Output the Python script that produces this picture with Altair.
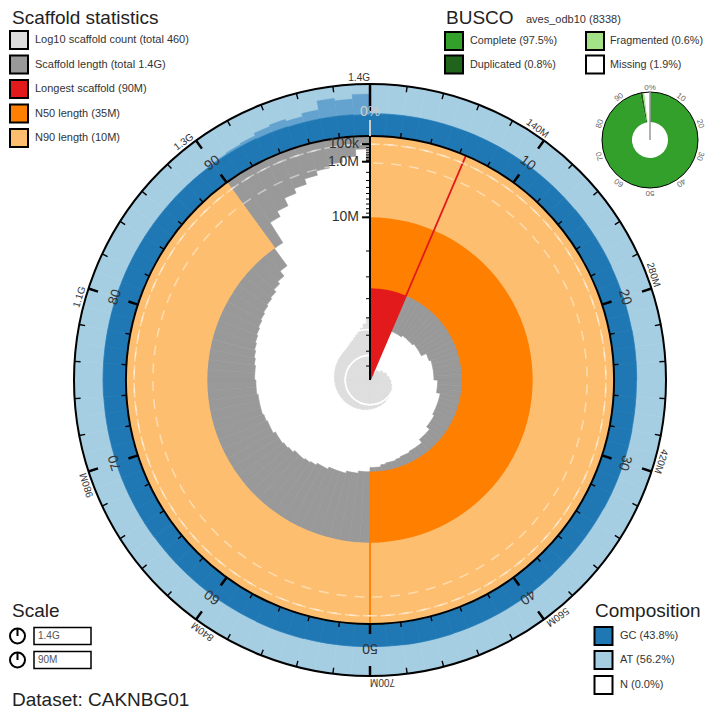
import math
import altair as alt
import pandas as pd

# ------------------------------------------------------------------ data
TOTAL_MB = 1400.0
LONGEST_MB = 90.0
N50_MB = 35.0
N90_MB = 10.0
N_SCAFFOLDS = 460

# scaffold length (Mb) at each 1% bin of the assembly (size ordered)
scaffold_len_mb = [
    90, 90, 90, 90, 90, 90, 55, 55, 55, 55,
    54, 54, 54, 54, 53, 53, 53, 53, 50, 50,
    49, 49, 49, 49, 49, 47, 47, 47, 45, 45,
    45, 45, 45, 44, 44, 44, 42, 42, 42, 40,
    40, 40, 39.5, 39.5, 39, 38.5, 38.5, 38, 37, 37,
    35, 35, 34, 34, 33, 33, 33, 32, 32, 31,
    30.5, 30, 30, 29, 28.5, 28, 28, 27, 27, 26.5,
    26, 26, 26, 25.5, 25.5, 25, 25, 24.5, 24, 23.5,
    23, 22.5, 22, 21.5, 21, 20.5, 20, 19, 18, 16,
    10, 5, 4, 2.8, 2.2, 1.6, 1.2, 0.9, 0.6, 0.25,
]
# cumulative scaffold count at each 1% bin
cum_count = [
    1, 1, 1, 1, 1, 1, 2, 2, 2, 2,
    3, 3, 3, 3, 4, 4, 4, 4, 5, 5,
    5, 5, 6, 6, 6, 7, 7, 7, 8, 8,
    8, 9, 9, 9, 10, 10, 10, 11, 11, 11,
    12, 12, 12, 13, 13, 13, 14, 14, 14, 15,
    15, 16, 16, 17, 17, 17, 18, 18, 19, 19,
    20, 20, 21, 21, 22, 22, 23, 23, 24, 24,
    25, 25, 26, 26, 27, 27, 28, 28, 29, 29,
    30, 31, 31, 32, 33, 33, 34, 35, 36, 37,
    40, 44, 49, 56, 66, 80, 100, 130, 190, 330,
]
# GC proportion (mean and sd) at each 1% bin
gc_mean = [
    .43, .43, .43, .43, .43, .43, .43, .43, .43, .43,
    .43, .43, .43, .43, .435, .435, .435, .435, .43, .43,
    .43, .43, .435, .435, .435, .43, .43, .43, .435, .435,
    .435, .435, .435, .43, .43, .43, .43, .43, .435, .435,
    .435, .435, .435, .435, .435, .44, .44, .44, .435, .435,
    .435, .435, .435, .435, .44, .44, .44, .435, .435, .435,
    .435, .435, .435, .435, .435, .44, .44, .44, .44, .44,
    .435, .435, .435, .435, .44, .44, .44, .44, .44, .44,
    .44, .44, .44, .44, .44, .44, .44, .44, .44, .44,
    .44, .44, .44, .43, .43, .42, .42, .42, .42, .41,
]
gc_sd = [0.005] * 90 + [
    .02, .04, .06, .12, .15, .12, .18, .35, .30, .40]

pct_labels = ["0%", "10", "20", "30", "40", "50", "60", "70", "80", "90"]
len_labels = ["1.4G", "140M", "280M", "420M", "560M", "700M", "840M",
              "980M", "1.1G", "1.3G"]
radial_tick_mb = [0.1, 0.2, 0.3, 0.4, 0.5, 0.6, 0.7, 0.8, 0.9,
                  1, 2, 3, 4, 5, 6, 7, 8, 9,
                  10, 20, 30, 40, 50, 60, 70, 80]
radial_major_mb = [0.1, 1, 10]
radial_major_lab = ["100k", "1.0M", "10M"]
grid_mb = [0.1, 1]

busco_names = ["Complete", "Duplicated", "Fragmented", "Missing"]
busco_pct = [97.5, 0.8, 0.6, 1.9]
busco_cols = ["#33a02c", "#20641c", "#a3e287", "#ffffff"]

scaf_leg_labels = ["Log10 scaffold count (total 460)",
                   "Scaffold length (total 1.4G)",
                   "Longest scaffold (90M)",
                   "N50 length (35M)",
                   "N90 length (10M)"]
scaf_leg_cols = ["#dddddd", "#999999", "#e31a1c", "#ff7f00", "#fdbf6f"]

comp_labels = ["GC (43.8%)", "AT (56.2%)", "N (0.0%)"]
comp_cols = ["#1f78b4", "#a6cee3", "#ffffff"]

scale_labels = ["1.4G", "90M"]
dataset_name = "CAKNBG01"

# ------------------------------------------------------------------ layout
W, H = 698, 705
CX, CY = 362, 372
R_IN, R_OUT = 244, 296
TAU = 2 * math.pi
FONT = "Liberation Sans"
TXT = "#333333"

theta_sc = alt.Scale(domain=[0, 100], range=[0, TAU])
len_sc = alt.Scale(type="sqrt", domain=[0, LONGEST_MB], range=[R_IN, 0], nice=False)
gc_sc = alt.Scale(type="linear", domain=[0, 1], range=[R_IN, R_OUT], nice=False)
cnt_sc = alt.Scale(type="log", domain=[1, N_SCAFFOLDS], range=[0, 66], nice=False)
ang_sc = alt.Scale(domain=[0, 100], range=[0, 360])


def TH(f):
    return alt.Theta(f, type="quantitative", scale=theta_sc, stack=None)


def ctr(x=CX, y=CY):
    return dict(x=alt.value(x), y=alt.value(y))


one_row = pd.DataFrame({"a": [0]})

bins = pd.DataFrame({
    "p0": list(range(100)),
    "p1": [i + 1 for i in range(100)],
    "L": scaffold_len_mb,
    "cnt": cum_count,
    "gc": gc_mean,
    "sd": gc_sd,
})
bins["gc_hi"] = (bins["gc"] + bins["sd"]).clip(upper=1.0)
bins["zero"] = 0.0
bins["one"] = 1.0

layers = []

# composition ring
layers.append(alt.Chart(bins).mark_arc(color="#a6cee3", stroke="#a6cee3", strokeWidth=0.6).encode(
    theta=TH("p0"), theta2="p1", radius=alt.Radius("zero:Q", scale=gc_sc), radius2="one", **ctr()))
layers.append(alt.Chart(bins).mark_arc(color="#64a3cf", stroke="#64a3cf", strokeWidth=0.3).encode(
    theta=TH("p0"), theta2="p1", radius=alt.Radius("gc:Q", scale=gc_sc), radius2="gc_hi", **ctr()))
layers.append(alt.Chart(bins).mark_arc(color="#1f78b4", stroke="#1f78b4", strokeWidth=0.6).encode(
    theta=TH("p0"), theta2="p1", radius=alt.Radius("zero:Q", scale=gc_sc), radius2="gc", **ctr()))

# scaffold lengths
layers.append(alt.Chart(bins).mark_arc(color="#999999", stroke="#999999", strokeWidth=0.6).encode(
    theta=TH("p0"), theta2="p1", radius=alt.Radius("L:Q", scale=len_sc), radius2="zero", **ctr()))

# cumulative count spiral
layers.append(alt.Chart(bins).mark_arc(color="#dddddd", stroke="#dddddd", strokeWidth=0.6).encode(
    theta=TH("p0"), theta2="p1", radius=alt.Radius("cnt:Q", scale=cnt_sc), radius2="one", **ctr()))
layers.append(alt.Chart(pd.DataFrame({"c": [10, 100]})).mark_arc(
    fillOpacity=0, stroke="white", strokeWidth=1.5).encode(
    theta=alt.value(0), theta2=alt.value(TAU), radius=alt.Radius("c:Q", scale=cnt_sc), **ctr()))

# longest, N50, N90
stats = pd.DataFrame({
    "p0": [0.0, 0.0, 0.0],
    "p1": [LONGEST_MB / TOTAL_MB * 100, 50.0, 90.0],
    "L": [LONGEST_MB, N50_MB, N90_MB],
    "z": [0.0, 0.0, 0.0],
    "col": ["#e31a1c", "#ff7f00", "#fdbf6f"],
})
for i in range(3):
    layers.append(alt.Chart(stats.iloc[[i]]).mark_arc().encode(
        theta=TH("p0"), theta2="p1", radius=alt.Radius("L:Q", scale=len_sc), radius2="z",
        color=alt.Color("col:N", scale=None), **ctr()))
layers.append(alt.Chart(stats).mark_arc(fillOpacity=0, strokeWidth=1.8).encode(
    theta=TH("p1"), theta2="p1", radius=alt.Radius("L:Q", scale=len_sc), radius2="z",
    stroke=alt.Stroke("col:N", scale=None), **ctr()))

# dashed length gridlines
layers.append(alt.Chart(pd.DataFrame({"L": grid_mb})).mark_arc(
    fillOpacity=0, stroke="white", strokeOpacity=0.45, strokeWidth=1.5, strokeDash=[10, 8]).encode(
    theta=alt.value(0), theta2=alt.value(TAU), radius=alt.Radius("L:Q", scale=len_sc), **ctr()))

# ring outlines
for r in (R_IN, R_OUT):
    layers.append(alt.Chart(one_row).mark_arc(fillOpacity=0, stroke="black", strokeWidth=2).encode(
        theta=alt.value(0), theta2=alt.value(TAU), radius=alt.value(r), **ctr()))

# ticks
pt = pd.DataFrame({"p": list(range(2, 100, 2))})
pt_minor = pt[pt.p % 10 != 0]
pt_major = pt[pt.p % 10 == 0]


def tick_layer(df, r0, r1, w, col="black"):
    return alt.Chart(df).mark_arc(fillOpacity=0, stroke=col, strokeWidth=w).encode(
        theta=TH("p"), theta2="p", radius=alt.value(r0), radius2=alt.value(r1), **ctr())


layers.append(tick_layer(pt_minor, R_IN, R_IN + 5, 1.4))
layers.append(tick_layer(pt_major, R_IN, R_IN + 10, 2.5))
layers.append(tick_layer(pt_minor, R_OUT, R_OUT - 6, 1.4))
layers.append(tick_layer(pt_major, R_OUT, R_OUT - 10, 2.5))
layers.append(tick_layer(pd.DataFrame({"p": [0]}), R_OUT, R_OUT - 28, 2.5))
layers.append(tick_layer(pd.DataFrame({"p": [0]}), R_IN, R_IN + 16, 2, "#cccccc"))

# tick labels
lab_p = list(range(0, 100, 10))
pct_df = pd.DataFrame({"p": lab_p, "lab": pct_labels,
                       "col": ["#cccccc"] + [TXT] * 9})
layers.append(alt.Chart(pct_df).mark_text(
    radius=268, align="center", baseline="middle", fontSize=14, font=FONT).encode(
    theta=TH("p"), text="lab:N", angle=alt.Angle("p:Q", scale=ang_sc),
    color=alt.Color("col:N", scale=None), **ctr()))
len_df = pd.DataFrame({"p": lab_p, "lab": len_labels})
layers.append(alt.Chart(len_df).mark_text(
    radius=299, align="right", baseline="alphabetic", fontSize=10, font=FONT, color=TXT).encode(
    theta=TH("p"), text="lab:N", angle=alt.Angle("p:Q", scale=ang_sc), **ctr()))

# radial (length) axis along 12 o'clock
ysc = alt.Scale(type="sqrt", domain=[0, LONGEST_MB], range=[CY - R_IN, CY], nice=False)
layers.append(alt.Chart(pd.DataFrame({"a": [0.0], "b": [LONGEST_MB]})).mark_rule(
    color="black", strokeWidth=2).encode(
    x=alt.value(CX), y=alt.Y("a:Q", scale=ysc, axis=None), y2="b:Q"))
layers.append(alt.Chart(pd.DataFrame({"L": radial_tick_mb})).mark_rule(
    color="black", strokeWidth=1).encode(
    x=alt.value(CX - 4), x2=alt.value(CX), y=alt.Y("L:Q", scale=ysc, axis=None)))
rmaj = pd.DataFrame({"L": radial_major_mb, "lab": radial_major_lab})
layers.append(alt.Chart(rmaj).mark_rule(color="black", strokeWidth=2).encode(
    x=alt.value(CX - 8), x2=alt.value(CX), y=alt.Y("L:Q", scale=ysc, axis=None)))
layers.append(alt.Chart(rmaj).mark_text(
    align="right", baseline="middle", fontSize=14, font=FONT, color=TXT).encode(
    x=alt.value(CX - 11), y=alt.Y("L:Q", scale=ysc, axis=None), text="lab:N"))

# BUSCO donut
BX, BY = 642, 132
starts, ends = [], []
single = busco_pct[0] - busco_pct[1]
seg = [single, busco_pct[1], busco_pct[2], busco_pct[3]]
acc = 0.0
for v in seg:
    starts.append(acc)
    acc += v
    ends.append(acc)
bdf = pd.DataFrame({"s": starts, "e": ends, "col": busco_cols})
layers.append(alt.Chart(bdf).mark_arc(stroke=None).encode(
    theta=TH("s"), theta2="e", radius=alt.value(48), radius2=alt.value(18),
    color=alt.Color("col:N", scale=None), **ctr(BX, BY)))
layers.append(alt.Chart(one_row).mark_arc(fillOpacity=0, stroke="black", strokeWidth=1).encode(
    theta=alt.value(0), theta2=alt.value(TAU), radius=alt.value(48), **ctr(BX, BY)))
layers.append(alt.Chart(one_row).mark_arc(fillOpacity=0, stroke="#999999", strokeWidth=1.5).encode(
    theta=alt.value(0), theta2=alt.value(0), radius=alt.value(48), radius2=alt.value(0), **ctr(BX, BY)))
layers.append(alt.Chart(pd.DataFrame({"p": lab_p, "lab": pct_labels})).mark_text(
    radius=52.5, align="center", baseline="middle", fontSize=8, font=FONT, color="#666666").encode(
    theta=TH("p"), text="lab:N", angle=alt.Angle("p:Q", scale=ang_sc), **ctr(BX, BY)))

# ------------------------------------------------------------------ legends
def swatches(xs, ys, cols, labels, tx, fs=11):
    df = pd.DataFrame({"x": xs, "y": ys, "col": cols, "lab": labels,
                       "tx": [t for t in tx]})
    sq = alt.Chart(df).mark_square(size=18 * 18, stroke="black", strokeWidth=2, opacity=1).encode(
        x=alt.X("x:Q", scale=None), y=alt.Y("y:Q", scale=None),
        fill=alt.Fill("col:N", scale=None))
    tt = alt.Chart(df).mark_text(align="left", baseline="middle", fontSize=fs,
                                 font=FONT, color=TXT).encode(
        x=alt.X("tx:Q", scale=None), y=alt.Y("y:Q", scale=None), text="lab:N")
    return [sq, tt]


ys5 = [32 + 24.5 * i for i in range(5)]
layers += swatches([11] * 5, ys5, scaf_leg_cols, scaf_leg_labels, [27] * 5)
busco_leg = [f"{n} ({v}%)" for n, v in zip(busco_names, busco_pct)]
layers += swatches([446, 446, 587, 587], [33, 56.5, 33, 56.5],
                   busco_cols, busco_leg, [462, 462, 602, 602], fs=10.8)
layers += swatches([595.5] * 3, [628, 652, 677], comp_cols, comp_labels, [612] * 3)

titles = pd.DataFrame({
    "x": [4, 438, 4, 587, 4],
    "y": [16, 16, 609, 609, 698],
    "lab": ["Scaffold statistics", "BUSCO", "Scale", "Composition",
            f"Dataset: {dataset_name}"],
})
layers.append(alt.Chart(titles).mark_text(
    align="left", baseline="alphabetic", fontSize=19, font=FONT, color="#222222").encode(
    x=alt.X("x:Q", scale=None), y=alt.Y("y:Q", scale=None), text="lab:N"))
layers.append(alt.Chart(pd.DataFrame({"x": [518], "y": [15], "lab": ["aves_odb10 (8338)"]})).mark_text(
    align="left", baseline="alphabetic", fontSize=11, font=FONT, color=TXT).encode(
    x=alt.X("x:Q", scale=None), y=alt.Y("y:Q", scale=None), text="lab:N"))

# scale legend
for yc, lab in zip([628, 652], scale_labels):
    layers.append(alt.Chart(one_row).mark_arc(fillOpacity=0, stroke="black", strokeWidth=2).encode(
        theta=alt.value(0), theta2=alt.value(TAU), radius=alt.value(7.5), **ctr(9.5, yc)))
    layers.append(alt.Chart(one_row).mark_arc(fillOpacity=0, stroke="black", strokeWidth=2).encode(
        theta=alt.value(0), theta2=alt.value(0), radius=alt.value(7.5), radius2=alt.value(0),
        **ctr(9.5, yc)))
    layers.append(alt.Chart(one_row).mark_rect(fill="white", stroke="black", strokeWidth=1.5).encode(
        x=alt.value(26), x2=alt.value(83), y=alt.value(yc - 8.5), y2=alt.value(yc + 8.5)))
    layers.append(alt.Chart(pd.DataFrame({"lab": [lab]})).mark_text(
        align="left", baseline="middle", fontSize=10, font=FONT, color="#555555").encode(
        x=alt.value(30), y=alt.value(yc), text="lab:N"))

chart = alt.layer(*layers).resolve_scale(
    radius="independent", x="independent", y="independent",
    color="independent", stroke="independent", fill="independent", angle="independent",
).properties(width=W, height=H, padding=0, autosize="none").configure_view(stroke=None)

chart.save("out.html", embed_options={"renderer": "svg", "actions": False})
